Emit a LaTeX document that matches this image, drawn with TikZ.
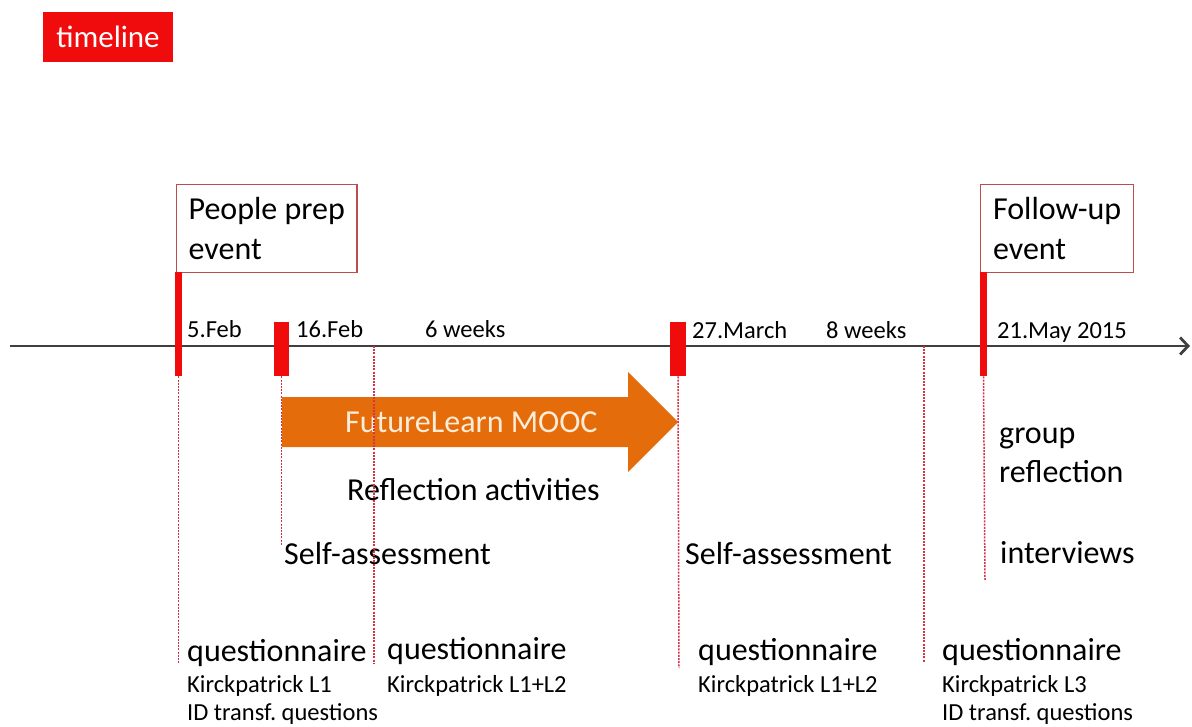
\documentclass[tikz,border=0pt]{standalone}
\usepackage{fontspec}
\setmainfont{Carlito}
\usetikzlibrary{arrows.meta}
\definecolor{tlred}{RGB}{240,12,12}
\definecolor{boxred}{RGB}{188,78,80}
\definecolor{guidered}{RGB}{215,50,70}
\definecolor{moocorange}{RGB}{228,108,10}
\definecolor{mooctext}{RGB}{253,236,216}
\definecolor{axisgray}{RGB}{64,64,64}
\frenchspacing

\begin{document}
\begin{tikzpicture}[x=1pt,y=-1pt,>={Straight Barb[length=8pt,width=17pt]},
  big/.style={font=\fontsize{32}{40}\selectfont},
  small/.style={font=\fontsize{24.5}{27}\selectfont},
  bar/.style={fill=tlred,inner sep=0pt,anchor=north},
  evbox/.style={draw=boxred,line width=1.3pt,fill=white,anchor=north west,align=left,inner xsep=12pt,inner ysep=0pt,minimum height=88pt,big},
  guide/.style={draw=guidered,line width=1.5pt,dash pattern=on 2pt off 1.2pt}]
  \useasboundingbox (0,0) rectangle (1192,726);

  \node[fill=tlred,text=white,minimum width=130pt,minimum height=50pt,inner sep=0pt,font=\fontsize{31}{36}\selectfont] (title) at (108,37) {timeline};

  % time axis
  \coordinate (ax0) at (10,346);
  \coordinate (ax1) at (1190,346);
  \draw[->,axisgray,line width=2.8pt] (ax0) -- (ax1);

  % events and markers
  \node[evbox,minimum width=180pt] (prep) at (176,184) {People prep\\event};
  \node[evbox,minimum width=153pt] (follow) at (980,184) {Follow-up\\event};
  \node[bar,minimum width=7pt,minimum height=104pt] (feb5) at (178.5,272) {};
  \node[bar,minimum width=15pt,minimum height=54pt] (feb16) at (281.5,322) {};
  \node[bar,minimum width=16pt,minimum height=54pt] (mar27) at (678,322) {};
  \node[bar,minimum width=7pt,minimum height=104pt] (may21) at (983.5,272) {};

  \foreach \nm/\x/\y/\lab in {d1/187/337/5.Feb, d2/296/337/16.Feb, w6/425/337/6 weeks,
      d3/692/338/27.March, w8/826/338/8 weeks, d4/997/338/21.May 2015}
    \node[small,anchor=base west,inner sep=0pt] (\nm) at (\x,\y) {\lab};

  % MOOC arrow
  \fill[moocorange] (282,397) -- (628,397) -- (628,372) -- (678,422) -- (628,472) -- (628,447) -- (282,447) -- cycle;
  \node[big,text=mooctext,anchor=base west,inner sep=0pt] (mooc) at (345,432) {FutureLearn MOOC};

  \node[big,anchor=base west,inner sep=0pt] (refl) at (347,500) {Reflection activities};
  \node[big,anchor=base west,inner sep=0pt] (sa1) at (284,564) {Self-assessment};
  \node[big,anchor=base west,inner sep=0pt] (sa2) at (685,564) {Self-assessment};
  \node[big,anchor=base west,inner sep=0pt,align=left,font=\fontsize{32}{39}\selectfont] (grp) at (999,482) {group\\reflection};
  \node[big,anchor=base west,inner sep=0pt] (intv) at (1000,563) {interviews};

  % questionnaires
  \foreach \n/\x/\y/\lev in {1/187/661/L1, 2/387/659/L1+L2, 3/698/660/L1+L2, 4/942/660/L3}{
    \node[big,anchor=base west,inner sep=0pt] (q\n) at (\x,\y) {questionnaire};
    \node[small,anchor=base west,inner sep=0pt] (k\n) at (\x,692) {Kirckpatrick \lev};
  }
  \node[small,anchor=base west,inner sep=0pt] (id1) at (187,720) {ID transf.\ questions};
  \node[small,anchor=base west,inner sep=0pt] (id4) at (942,720) {ID transf.\ questions};

  % dotted guides
  \coordinate (six) at (374,346);
  \coordinate (eight) at (924,346);
  \coordinate (g1) at (178.5,663);
  \coordinate (g2) at (281.5,545);
  \coordinate (g3) at (374,663);
  \coordinate (g4) at (679,668);
  \coordinate (g5) at (924,662);
  \coordinate (g6) at (985,580);
  \draw[guide] (feb5.south) -- (g1);
  \draw[guide] (feb16.south) -- (g2);
  \draw[guide] (six) -- (g3);
  \draw[guide] (mar27.south) -- (g4);
  \draw[guide] (eight) -- (g5);
  \draw[guide] (may21.south) -- (g6);
\end{tikzpicture}
\end{document}
